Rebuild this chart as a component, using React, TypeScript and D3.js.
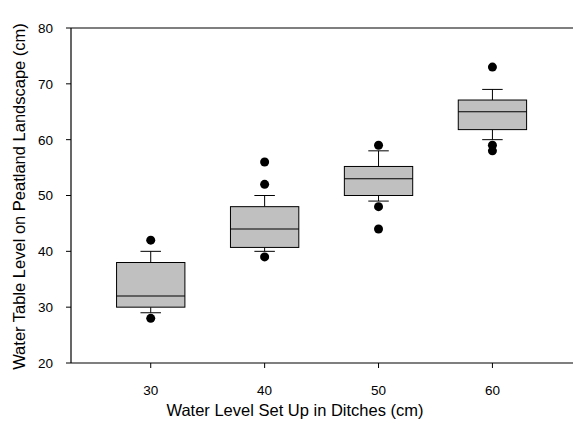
import React from "react";
import * as d3 from "d3";

const categories = [30, 40, 50, 60];
const q1 = [30, 40.7, 50, 61.8];
const medians = [32, 44, 53, 65];
const q3 = [38, 48, 55.2, 67.1];
const whiskerLow = [29, 40, 49, 60];
const whiskerHigh = [40, 50, 58, 69];
const outliers = [
  [42, 28],
  [56, 52, 39],
  [59, 48, 44],
  [73, 59, 58],
];
const yTicks = [20, 30, 40, 50, 60, 70, 80];

const width = 573;
const height = 421;
const margin = { top: 28, right: -6, bottom: 58, left: 71 };

export default function App() {
  const x = d3
    .scaleLinear()
    .domain([23, 67.6])
    .range([margin.left, width - margin.right]);
  const y = d3
    .scaleLinear()
    .domain([20, 80])
    .range([height - margin.bottom, margin.top]);

  const boxHalf = 3;
  const capHalf = 0.9;
  const font = "'Liberation Sans', Arial, sans-serif";
  const x0 = margin.left;
  const x1 = width - margin.right;
  const yTop = y(80);
  const yBot = y(20);

  return (
    <svg
      width={width}
      height={height}
      style={{ position: "absolute", left: 0, top: 0 }}
      fontFamily={font}
    >
      {/* frame */}
      <line x1={x0} x2={x1} y1={yTop} y2={yTop} stroke="#000" strokeWidth={1.2} />
      <line x1={x0} x2={x1} y1={yBot} y2={yBot} stroke="#000" strokeWidth={1.2} />
      <line x1={x0} x2={x0} y1={yTop} y2={yBot} stroke="#000" strokeWidth={1.2} />

      {/* y ticks */}
      {yTicks.map((t) => (
        <g key={t}>
          <line x1={x0 - 5} x2={x0} y1={y(t)} y2={y(t)} stroke="#000" />
          <text
            x={x0 - 18}
            y={y(t)}
            dy="0.36em"
            textAnchor="end"
            fontSize={13.5}
          >
            {t}
          </text>
        </g>
      ))}

      {/* x ticks */}
      {categories.map((c) => (
        <g key={c}>
          <line x1={x(c)} x2={x(c)} y1={yBot} y2={yBot + 5} stroke="#000" />
          <text x={x(c)} y={395} textAnchor="middle" fontSize={13.5}>
            {c}
          </text>
        </g>
      ))}

      {/* boxes */}
      {categories.map((c, i) => (
        <g key={c}>
          <line x1={x(c)} x2={x(c)} y1={y(q3[i])} y2={y(whiskerHigh[i])} stroke="#000" />
          <line x1={x(c)} x2={x(c)} y1={y(q1[i])} y2={y(whiskerLow[i])} stroke="#000" />
          <line
            x1={x(c - capHalf)}
            x2={x(c + capHalf)}
            y1={y(whiskerHigh[i])}
            y2={y(whiskerHigh[i])}
            stroke="#000"
          />
          <line
            x1={x(c - capHalf)}
            x2={x(c + capHalf)}
            y1={y(whiskerLow[i])}
            y2={y(whiskerLow[i])}
            stroke="#000"
          />
          <rect
            x={x(c - boxHalf)}
            y={y(q3[i])}
            width={x(c + boxHalf) - x(c - boxHalf)}
            height={y(q1[i]) - y(q3[i])}
            fill="#c0c0c0"
            stroke="#000"
          />
          <line
            x1={x(c - boxHalf)}
            x2={x(c + boxHalf)}
            y1={y(medians[i])}
            y2={y(medians[i])}
            stroke="#000"
          />
          {outliers[i].map((o, j) => (
            <circle key={j} cx={x(c)} cy={y(o)} r={4.5} fill="#000" />
          ))}
        </g>
      ))}

      {/* axis titles */}
      <text x={295} y={416} textAnchor="middle" fontSize={16.5}>
        Water Level Set Up in Ditches (cm)
      </text>
      <text
        transform={`translate(25,${(yTop + yBot) / 2 + 1}) rotate(-90)`}
        textAnchor="middle"
        fontSize={16.5}
      >
        Water Table Level on Peatland Landscape (cm)
      </text>
    </svg>
  );
}
